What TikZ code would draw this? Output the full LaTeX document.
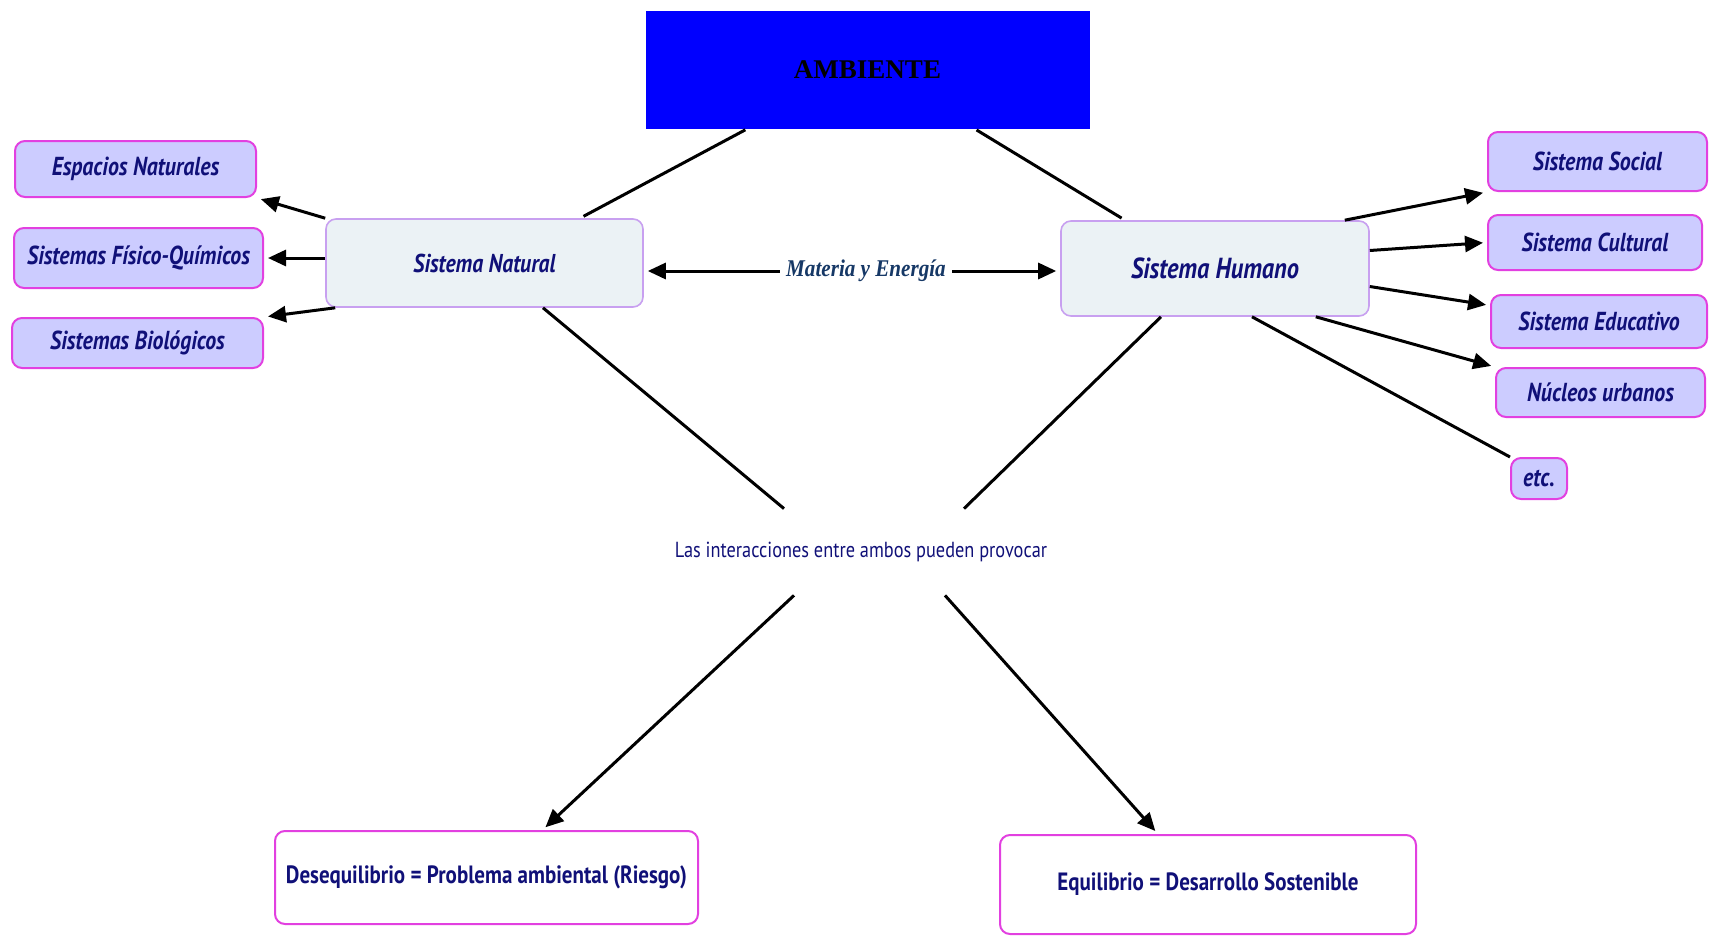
\documentclass[tikz,border=0pt]{standalone}
\usepackage{fontspec}
\setmainfont{PT Sans}
\newfontfamily\condfont{PT Sans}[FakeStretch=0.84]
\newfontfamily\serffont{Liberation Serif}
\newfontfamily\serfcond{Liberation Serif}[FakeStretch=0.88]
\usepackage{tikz}
\usetikzlibrary{arrows.meta,positioning}
\definecolor{ambblue}{RGB}{0,0,255}
\definecolor{navytext}{RGB}{16,16,120}
\definecolor{materiablue}{RGB}{22,56,102}
\definecolor{boxlav}{RGB}{204,204,255}
\definecolor{boxmagenta}{RGB}{226,64,224}
\definecolor{sysfill}{RGB}{235,242,245}
\definecolor{sysedge}{RGB}{200,160,240}
\tikzset{
  topbox/.style ={rectangle, draw=ambblue, fill=ambblue, inner sep=0pt,
                  font=\serffont\bfseries\fontsize{13.5}{16}\selectfont},
  subbox/.style ={rectangle, rounded corners=5pt, draw=boxmagenta, line width=1pt,
                  fill=boxlav, text=navytext, inner sep=0pt, align=center,
                  font=\condfont\fontsize{13}{15}\selectfont\bfseries\itshape},
  sysbox/.style ={rectangle, rounded corners=5pt, draw=sysedge, line width=0.8pt,
                  fill=sysfill, text=navytext, inner sep=0pt, align=center,
                  font=\condfont\fontsize{12.9}{15}\selectfont\bfseries\itshape},
  resbox/.style ={rectangle, rounded corners=5pt, draw=boxmagenta, line width=1pt,
                  fill=white, text=navytext, inner sep=0pt, align=center,
                  font=\condfont\fontsize{12.5}{15}\selectfont\bfseries},
  note/.style   ={rectangle, inner sep=0pt, text=navytext,
                  font=\condfont\fontsize{10.9}{13}\selectfont},
  lbl/.style    ={rectangle, inner sep=3pt, fill=white, text=materiablue,
                  font=\serfcond\fontsize{12}{14}\selectfont\bfseries\itshape},
  flow/.style   ={-{Triangle[length=9pt,width=8pt]}, line width=1.5pt, shorten >=2pt},
  link/.style   ={line width=1.5pt}
}
\begin{document}
\begin{tikzpicture}[x=0.5pt, y=-0.5pt]
\useasboundingbox (0,0) rectangle (1709,937);
\node[topbox, minimum width=221.5pt, minimum height=58.5pt] (ambiente) at (867.5,69.5) {AMBIENTE};
\node[sysbox, minimum width=158.5pt, minimum height=44pt] (natural) at (484.5,263) {Sistema Natural};
\node[sysbox, minimum width=154pt, minimum height=47.5pt, font=\condfont\fontsize{14.5}{17}\selectfont\bfseries\itshape] (humano) at (1215,268.5) {Sistema Humano};
\node[subbox, minimum width=120.5pt, minimum height=28pt] (espacios) at (135.5,169) {Espacios Naturales};
\node[subbox, minimum width=124.5pt, minimum height=30pt] (fisico) at (138.5,258) {Sistemas Físico-Químicos};
\node[subbox, minimum width=125.5pt, minimum height=25pt] (biologicos) at (137.5,343) {Sistemas Biológicos};
\node[subbox, minimum width=109.5pt, minimum height=29.5pt] (social) at (1597.5,161.5) {Sistema Social};
\node[subbox, minimum width=107pt, minimum height=27.5pt] (cultural) at (1595,242.5) {Sistema Cultural};
\node[subbox, minimum width=108pt, minimum height=26.5pt] (educativo) at (1599,321.5) {Sistema Educativo};
\node[subbox, minimum width=104.5pt, minimum height=24.5pt] (nucleos) at (1600.5,392.5) {Núcleos urbanos};
\node[subbox, minimum width=28pt, minimum height=20.5pt] (etc) at (1539,478.5) {etc.};
\node[lbl] (materia) at (866,271) {Materia y Energía};
\node[note, minimum height=43pt] (interac) at (861,552) {Las interacciones entre ambos pueden provocar};
\node[resbox, minimum width=211.5pt, minimum height=46.5pt] (desequilibrio) at (486.5,877.5) {Desequilibrio = Problema ambiental (Riesgo)};
\node[resbox, minimum width=208pt, minimum height=49.5pt] (equilibrio) at (1208,884.5) {Equilibrio = Desarrollo Sostenible};
\draw[link, shorten <=1.5pt, shorten >=2pt] ([xshift=-59.75pt]ambiente.south) -- ([xshift=47.75pt]natural.north);
\draw[link, shorten <=1.5pt, shorten >=2pt] ([xshift=53.25pt]ambiente.south) -- ([xshift=-45pt]humano.north);
\draw[flow] (natural.north west) -- (espacios.south east);
\draw[flow] (natural.west |- fisico.east) -- (fisico.east);
\draw[flow] ([xshift=5pt]natural.south west) -- (biologicos.north east);
\draw[flow] (materia.west) -- (materia.west -| natural.east);
\draw[flow] (materia.east) -- (materia.east -| humano.west);
\draw[flow] ([xshift=-12.5pt]humano.north east) -- (social.south west);
\draw[flow] ([yshift=9pt]humano.east) -- (cultural.west);
\draw[flow] ([yshift=-9pt]humano.east) -- ([yshift=8pt]educativo.west);
\draw[flow] ([xshift=-27pt]humano.south east) -- (nucleos.north west);
\draw[link] ([xshift=18.5pt]humano.south) -- (etc.north west);
\draw[link] ([xshift=29.25pt]natural.south) -- ([xshift=-38.5pt]interac.north);
\draw[link] ([xshift=-27pt]humano.south) -- ([xshift=51.5pt]interac.north);
\draw[flow] ([xshift=-33.5pt]interac.south) -- ([xshift=28pt]desequilibrio.north);
\draw[flow] ([xshift=42pt]interac.south) -- ([xshift=-25pt]equilibrio.north);
\end{tikzpicture}
\end{document}
